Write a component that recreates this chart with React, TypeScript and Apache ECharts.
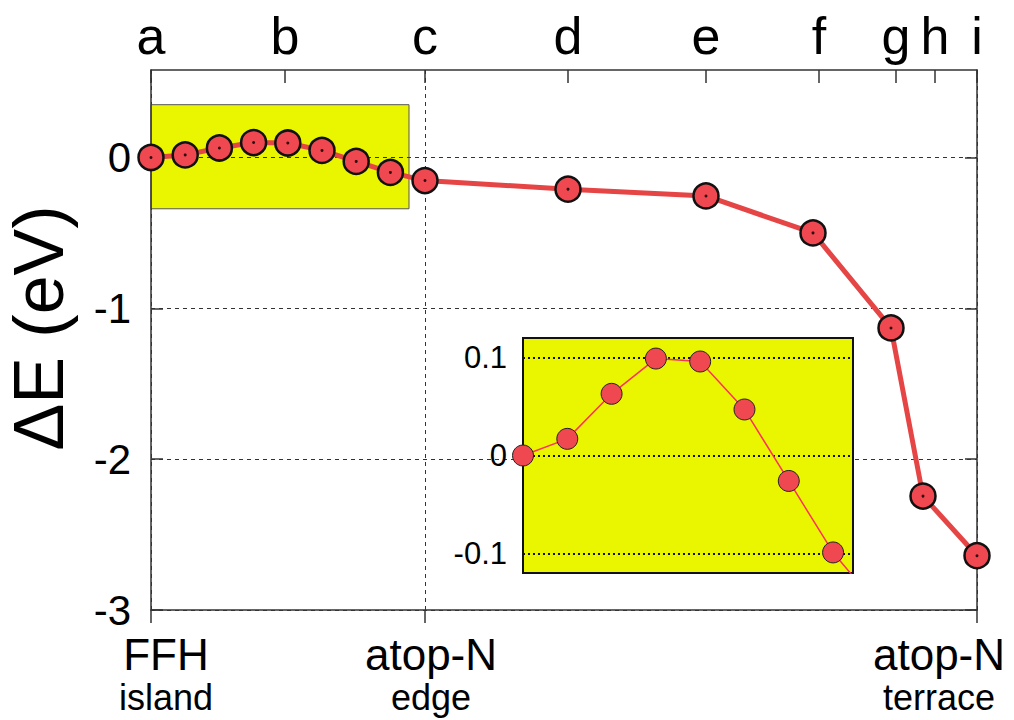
import React, { useEffect, useRef } from 'react';
import * as echarts from 'echarts';

const F = "'Liberation Sans', Arial, Helvetica, sans-serif";

// top axis: state letters and their positions along the path
const stateNames = ['a', 'b', 'c', 'd', 'e', 'f', 'g', 'h', 'i'];
const statePos = [0, 1.34, 2.74, 4.17, 5.55, 6.68, 7.45, 7.84, 8.26];

// bottom axis: site labels
const sitePos = [0, 2.74, 8.26];
const siteName = ['FFH', 'atop-N', 'atop-N'];
const siteSub = ['island', 'edge', 'terrace'];

// island segment (a -> c), evenly spaced images
const islandX = [0, 0.342, 0.684, 1.026, 1.368, 1.71, 2.052, 2.394, 2.74];
const islandE = [0, 0.017, 0.063, 0.099, 0.096, 0.047, -0.026, -0.099, -0.153];

// remaining path (d -> i)
const restX = [4.17, 5.55, 6.62, 7.40, 7.72, 8.26];
const restE = [-0.21, -0.255, -0.50, -1.13, -2.245, -2.64];

// highlighted box around the island segment
const boxX = [0, 2.58];
const boxE = [-0.34, 0.35];

// inset: island images by index
const insetIdx = [0, 1, 2, 3, 4, 5, 6, 7, 8];
const insetTicks = [-0.1, 0, 0.1];
const mainTicks = [-3, -2, -1, 0];

const pathX = islandX.concat(restX);
const pathE = islandE.concat(restE);

export default function App() {
  const ref = useRef<HTMLDivElement>(null);
  useEffect(() => {
    const chart = echarts.init(ref.current!, null, { renderer: 'svg' });
    const mainData = pathX.map((x, i) => [x, pathE[i]]);
    const insetData = insetIdx.map((x, i) => [x, islandE[i]]);
    const findIdx = (arr: number[], v: number) => arr.findIndex((p) => Math.abs(p - v) < 1e-6);
    const big = { fontSize: 44, lineHeight: 47, fontFamily: F, color: '#000' };
    const small = { fontSize: 36, lineHeight: 38, fontFamily: F, color: '#000' };
    const option: any = {
      animation: false,
      backgroundColor: '#fff',
      textStyle: { fontFamily: F, color: '#000' },
      grid: [
        { left: 151, top: 70, width: 826, height: 540, containLabel: false, outerBoundsMode: 'none' },
        {
          left: 523, top: 338, width: 330, height: 235, show: true, z: 5, outerBoundsMode: 'none',
          backgroundColor: '#e9f600', borderColor: '#111', borderWidth: 2,
        },
      ],
      xAxis: [
        {
          type: 'value', gridIndex: 0, position: 'bottom', min: 0, max: 8.26,
          axisLine: { show: true, onZero: false, lineStyle: { color: '#333', width: 1.5 } },
          axisTick: { show: true, inside: false, length: 13, customValues: sitePos, lineStyle: { color: '#333', width: 1.5 } },
          splitLine: { show: true, lineStyle: { color: '#333', width: 1, type: [4, 4] } },
          axisLabel: {
            customValues: sitePos, margin: 21, fontFamily: F,
            formatter: (v: number) => {
              const i = findIdx(sitePos, v);
              if (i < 0) return '';
              const s = i === 0 ? 'L' : i === 1 ? 'M' : 'R';
              return `{big${s}|${siteName[i]}}\n{small${s}|${siteSub[i]}}`;
            },
            rich: {
              bigL: { ...big, padding: [0, 0, 0, 30] },
              smallL: { ...small, padding: [0, 0, 0, 30] },
              bigM: { ...big, padding: [0, 0, 0, 12] },
              smallM: { ...small, padding: [0, 0, 0, 12] },
              bigR: { ...big, padding: [0, 76, 0, 0] },
              smallR: { ...small, padding: [0, 76, 0, 0] },
            },
          },
        },
        {
          type: 'value', gridIndex: 0, position: 'top', min: 0, max: 8.26,
          axisLine: { show: true, onZero: false, lineStyle: { color: '#333', width: 1.5 } },
          axisTick: { show: true, inside: true, length: 13, customValues: statePos, lineStyle: { color: '#333', width: 1.5 } },
          splitLine: { show: false },
          axisLabel: {
            customValues: statePos, margin: 8, fontSize: 52, fontFamily: F, color: '#000',
            formatter: (v: number) => {
              const i = findIdx(statePos, v);
              return i < 0 ? '' : stateNames[i];
            },
          },
        },
        {
          type: 'value', gridIndex: 1, min: 0, max: 7.45, show: false,
          splitLine: { show: false },
        },
      ],
      yAxis: [
        {
          type: 'value', gridIndex: 0, position: 'left', min: -3, max: 0.58, z: 2,
          name: 'ΔE (eV)', nameLocation: 'middle', nameGap: 77, nameRotate: 90,
          nameTextStyle: { fontSize: 70, fontFamily: F, color: '#000', padding: [0, 0, 0, 24] },
          axisLine: { show: true, onZero: false, lineStyle: { color: '#333', width: 1.5 } },
          axisTick: { show: true, inside: true, length: 12, customValues: mainTicks, lineStyle: { color: '#333', width: 1.5 } },
          splitLine: { show: true, lineStyle: { color: '#333', width: 1, type: [4, 4] } },
          axisLabel: { customValues: mainTicks, margin: 20, fontSize: 42, fontFamily: F, color: '#000' },
        },
        {
          type: 'value', gridIndex: 0, position: 'right', min: -3, max: 0.58,
          axisLine: { show: true, onZero: false, lineStyle: { color: '#333', width: 1.5 } },
          axisTick: { show: true, inside: true, length: 12, customValues: mainTicks, lineStyle: { color: '#333', width: 1.5 } },
          splitLine: { show: false },
          axisLabel: { show: false },
        },
        {
          type: 'value', gridIndex: 1, min: -0.12, max: 0.12, z: 6,
          axisLine: { show: false },
          axisTick: { show: false, customValues: insetTicks },
          splitLine: { show: true, lineStyle: { color: '#111', width: 2, type: [2, 3] } },
          axisLabel: {
            customValues: insetTicks, margin: 16, fontSize: 31, fontFamily: F, color: '#000',
            formatter: (v: number) => (Math.abs(v) < 1e-9 ? '0' : String(v)),
          },
        },
      ],
      series: [
        {
          type: 'line', xAxisIndex: 0, yAxisIndex: 0, data: mainData, z: 3, clip: false,
          symbol: 'circle', symbolSize: 25,
          itemStyle: { color: '#f04850', borderColor: '#111', borderWidth: 2.5 },
          lineStyle: { color: '#e64545', width: 5 },
          markArea: {
            silent: true,
            itemStyle: { color: '#e9f600', borderColor: '#555', borderWidth: 1, opacity: 1 },
            data: [[{ xAxis: boxX[0], yAxis: boxE[1] }, { xAxis: boxX[1], yAxis: boxE[0] }]],
          },
        },
        {
          type: 'scatter', xAxisIndex: 0, yAxisIndex: 0, data: mainData, z: 4,
          symbol: 'circle', symbolSize: 3, itemStyle: { color: '#000' }, silent: true,
        },
        {
          type: 'line', xAxisIndex: 2, yAxisIndex: 2, data: insetData, z: 7, clip: true,
          symbol: 'circle', symbolSize: 21,
          itemStyle: { color: '#f04850', borderColor: '#222', borderWidth: 1 },
          lineStyle: { color: '#ff3060', width: 1.5 },
        },
      ],
    };
    chart.setOption(option);
    return () => chart.dispose();
  }, []);
  return (
    <div
      ref={ref}
      style={{ position: 'fixed', left: 0, top: 0, width: 1014, height: 720, background: '#fff' }}
    />
  );
}
